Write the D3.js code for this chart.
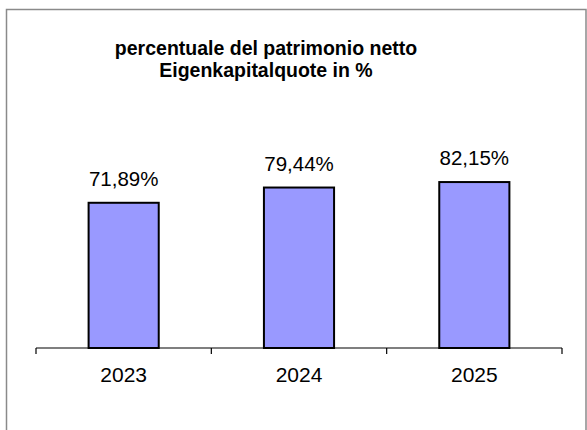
<!DOCTYPE html>
<html>
<head>
<meta charset="utf-8">
<script src="https://cdn.jsdelivr.net/npm/d3@7"></script>
<style>
  body { margin: 0; background: #fff; }
  text { font-family: "Liberation Sans", Arial, sans-serif; fill: #000; }
</style>
</head>
<body>
<div id="chart"></div>
<script>
const years = ["2023", "2024", "2025"];
const quote = [71.89, 79.44, 82.15];
const titleLines = ["percentuale del patrimonio netto", "Eigenkapitalquote in %"];

const W = 587, H = 430;
const svg = d3.select("#chart").append("svg")
    .attr("width", W)
    .attr("height", H);

// outer frame (bottom runs off the picture)
svg.append("rect")
    .attr("x", 6.5).attr("y", 9.5)
    .attr("width", 579.5).attr("height", 440)
    .attr("fill", "none")
    .attr("stroke", "#8a8a8a")
    .attr("stroke-width", 1.5);

svg.append("text")
    .attr("x", 266)
    .attr("y", 55)
    .attr("text-anchor", "middle")
    .style("font-size", "19.5px")
    .style("font-weight", "bold")
    .selectAll("tspan")
    .data(titleLines)
    .enter()
    .append("tspan")
    .attr("x", 266)
    .attr("dy", (d, i) => i === 0 ? 0 : 22)
    .text(d => d);

const x = d3.scaleBand()
    .domain(years)
    .range([36, 562])
    .paddingInner(0.6)
    .paddingOuter(0.3);

const y = d3.scaleLinear()
    .domain([0, 100])
    .range([348, 146]);

// bars
svg.selectAll(".bar")
    .data(quote)
    .enter()
    .append("rect")
    .attr("class", "bar")
    .attr("x", (d, i) => x(years[i]))
    .attr("y", d => y(d))
    .attr("width", x.bandwidth())
    .attr("height", d => y(0) - y(d))
    .attr("fill", "#9999ff")
    .attr("stroke", "#000")
    .attr("stroke-width", 2);

// value labels
svg.selectAll(".lbl")
    .data(quote)
    .enter()
    .append("text")
    .attr("class", "lbl")
    .attr("x", (d, i) => x(years[i]) + x.bandwidth() / 2)
    .attr("y", d => y(d) - 17)
    .attr("text-anchor", "middle")
    .style("font-size", "20.5px")
    .text(d => d.toFixed(2).replace(".", ",") + "%");

// x axis with ticks between categories
const axis = svg.append("g")
    .attr("transform", "translate(0,348)");
axis.append("line")
    .attr("x1", 36).attr("x2", 562)
    .attr("stroke", "#000").attr("stroke-width", 1.2);
const step = (562 - 36) / years.length;
axis.selectAll(".tk")
    .data(d3.range(years.length + 1))
    .enter()
    .append("line")
    .attr("x1", i => 36 + i * step)
    .attr("x2", i => 36 + i * step)
    .attr("y1", 0).attr("y2", 6)
    .attr("stroke", "#000").attr("stroke-width", 1.2);
axis.selectAll(".cat")
    .data(years)
    .enter()
    .append("text")
    .attr("x", d => x(d) + x.bandwidth() / 2)
    .attr("y", 34)
    .attr("text-anchor", "middle")
    .style("font-size", "21px")
    .text(d => d);
</script>
</body>
</html>
